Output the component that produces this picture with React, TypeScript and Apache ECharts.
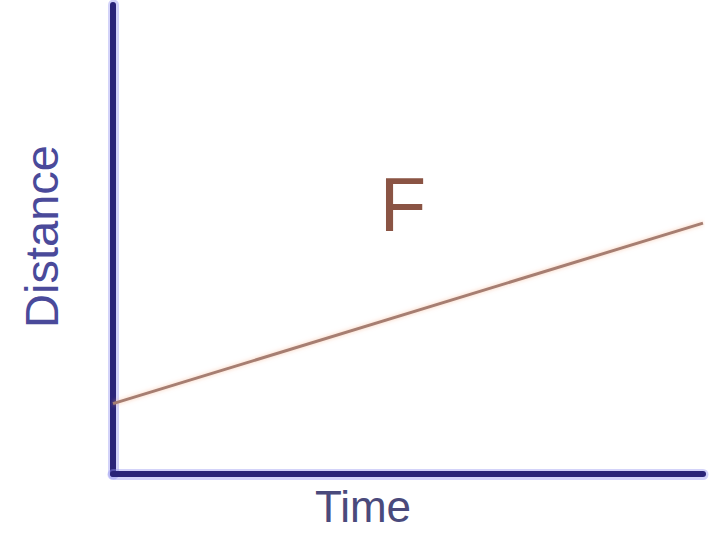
import React, { useEffect, useRef } from "react";
import * as echarts from "echarts";

// Distance–time graph: one straight line starting above the origin
const timeValues = [0, 10];
const distanceValues = [1.5, 5.35];
const graphLabel = "F";
const xAxisTitle = "Time";
const yAxisTitle = "Distance";

const FONT = "'Liberation Sans', Arial, sans-serif";
const AXIS_COLOR = "#2a2478";
const AXIS_HALO = "rgba(150,150,240,0.42)";

// Shared settings of a bare value axis (no ticks, labels or grid lines)
function bareAxis(color: string, width: number) {
  return {
    type: "value",
    min: 0,
    max: 10,
    offset: 0,
    axisLine: { show: true, onZero: false, lineStyle: { color, width } },
    axisTick: { show: false },
    axisLabel: { show: false },
    splitLine: { show: false },
  };
}

export default function App() {
  const ref = useRef<HTMLDivElement>(null);

  useEffect(() => {
    if (!ref.current) return;
    const chart = echarts.init(ref.current, null, { renderer: "svg" });
    chart.setOption({
      animation: false,
      backgroundColor: "#ffffff",
      grid: {
        left: 113,
        top: 5,
        right: 15,
        bottom: 60,
        containLabel: false,
        outerBoundsMode: "none",
      },
      xAxis: [
        { ...bareAxis(AXIS_HALO, 11), position: "bottom" },
        {
          ...bareAxis(AXIS_COLOR, 6),
          position: "bottom",
          name: xAxisTitle,
          nameLocation: "middle",
          nameGap: 10,
          nameTextStyle: {
            fontFamily: FONT,
            fontSize: 44,
            color: "#4a4a7c",
            padding: [0, 90, 0, 0],
          },
        },
      ],
      yAxis: [
        { ...bareAxis(AXIS_HALO, 11), position: "left" },
        {
          ...bareAxis(AXIS_COLOR, 6),
          position: "left",
          name: yAxisTitle,
          nameLocation: "middle",
          nameRotate: 90,
          nameGap: 48,
          nameTextStyle: {
            fontFamily: FONT,
            fontSize: 47,
            color: "#4a4a9a",
            padding: [0, 0, 0, 6],
          },
        },
      ],
      series: [
        {
          type: "line",
          xAxisIndex: 1,
          yAxisIndex: 1,
          data: timeValues.map((t, i) => [t, distanceValues[i]]),
          showSymbol: false,
          lineStyle: {
            color: "#a67e72",
            width: 3,
            shadowColor: "rgba(245,170,130,0.6)",
            shadowBlur: 4,
          },
        },
      ],
      graphic: [
        {
          type: "text",
          x: 403,
          y: 204,
          style: {
            text: graphLabel,
            fontFamily: FONT,
            fontSize: 76,
            fill: "#8a5444",
            align: "center",
            verticalAlign: "middle",
          },
        },
      ],
    });
    return () => chart.dispose();
  }, []);

  return (
    <div
      ref={ref}
      style={{ position: "fixed", left: 0, top: 0, width: 718, height: 534 }}
    />
  );
}
